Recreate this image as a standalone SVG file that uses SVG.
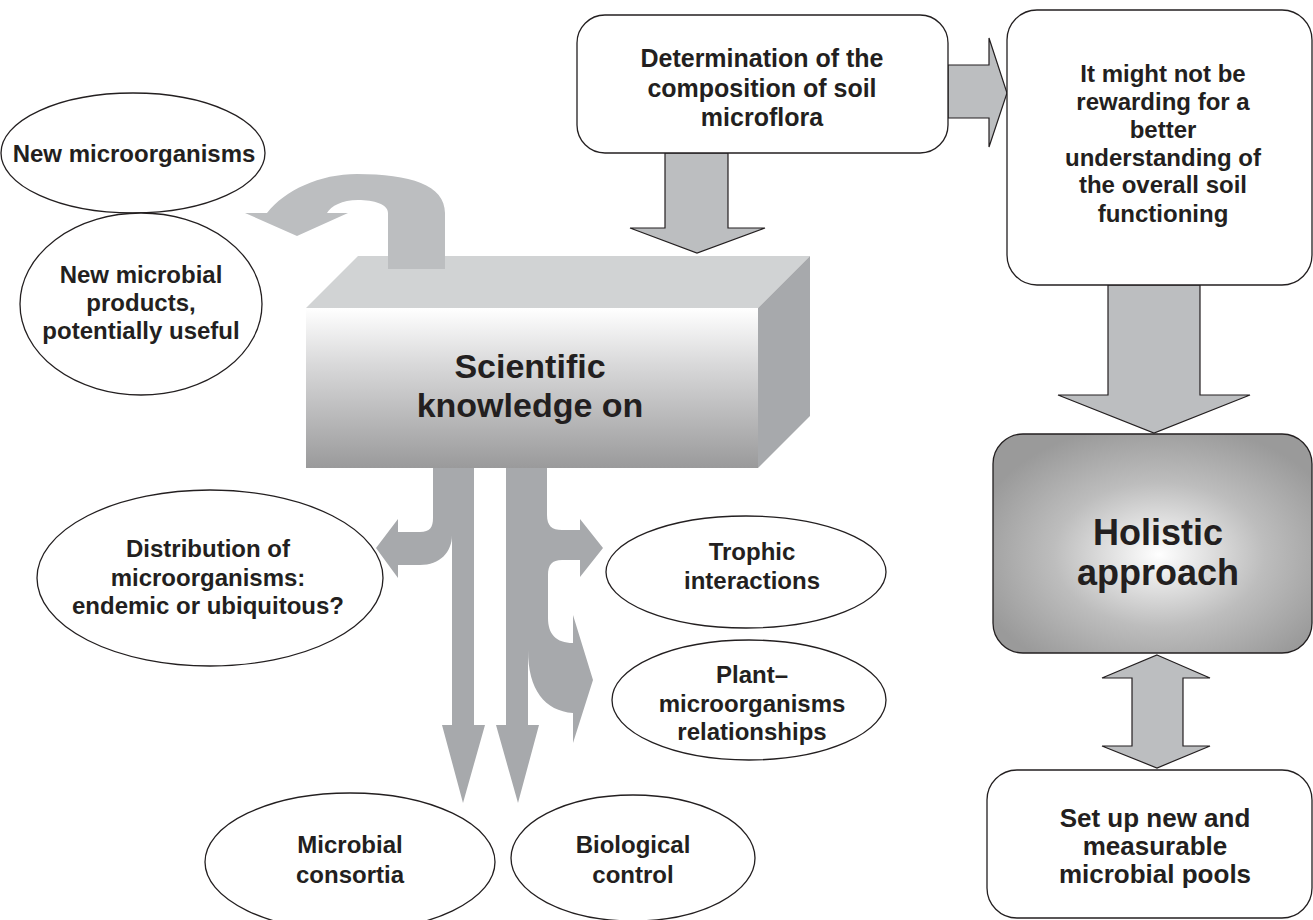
<svg xmlns="http://www.w3.org/2000/svg" width="1313" height="920" viewBox="0 0 1313 920">
<style>
text{font-family:"Liberation Sans",Arial,sans-serif;font-weight:bold;fill:#231f20;text-anchor:middle}
.t{font-size:24px}
.t25{font-size:25px}
.t26{font-size:26px}
.big{font-size:34px}
.hol{font-size:36px}
.ell{fill:#fff;stroke:#231f20;stroke-width:1.3}
.box{fill:#fff;stroke:#231f20;stroke-width:1.3}
.barr{fill:#bcbec0;stroke:#231f20;stroke-width:1.2;stroke-linejoin:miter}
.garr{fill:#a7a9ac}
</style>
<defs>
<linearGradient id="front" x1="0" y1="0" x2="0" y2="1">
<stop offset="0" stop-color="#ffffff"/>
<stop offset="0.35" stop-color="#d9d9da"/>
<stop offset="1" stop-color="#9a9a9b"/>
</linearGradient>
<radialGradient id="holg" cx="0.52" cy="0.55" r="0.6">
<stop offset="0" stop-color="#ffffff"/>
<stop offset="0.55" stop-color="#bdbdbd"/>
<stop offset="1" stop-color="#9a9a9a"/>
</radialGradient>
</defs>

<g id="connectors">
<polygon class="barr" points="665,153 728,153 728,228 765,228 697,253 630,228 665,228 665,153"/>
<polygon class="barr" points="948,65 989,65 989,38 1007,93 989,147 989,118 948,118"/>
<polygon class="barr" points="1108,285 1200,285 1200,395 1250,395 1154,433 1058,395 1108,395"/>
<polygon class="barr" points="1157,655 1210,678 1183,678 1183,746 1210,746 1157,768 1102,746 1132,746 1132,678 1102,678"/>
</g>

<g id="box-scientific">
<polygon points="306,308 358,256 810,256 758,308" fill="#d1d3d4"/>
<polygon points="758,308 810,256 810,416 758,468" fill="#a7a9ac"/>
<rect x="306" y="308" width="452" height="160" fill="url(#front)"/>
<text class="big" x="530" y="378">Scientific</text>
<text class="big" x="530" y="417">knowledge on</text>
</g>

<g id="connectors-grey">
<path d="M 388 269 L 388 213 C 388 204 374 200 358 200 C 342 200 331 206 327 213 L 348 213 L 297 236 L 245 213 L 267 213 C 285 190 320 174 357 174 C 410 174 445 185 445 213 L 445 269 Z" fill="#bcbec0"/>
<path class="garr" d="M 433 468 L 474 468 L 474 725 L 485 725 L 463 803 L 442 725 L 452 725 L 452 535 C 452 552 440 565 420 565 L 398 565 L 398 578 L 376 548 L 398 519 L 398 532 L 420 532 C 430 532 433 527 433 518 Z"/>
<path class="garr" d="M 506 468 L 547 468 L 547 515 C 547 526 552 530 562 530 L 580 530 L 580 519 L 603 548 L 580 577 L 580 560 L 562 560 C 552 560 548 565 548 575 L 548 618 C 548 634 556 643 573 643 L 573 615 L 593 680 L 573 743 L 573 713 C 545 711 528 690 528 650 L 528 725 L 539 725 L 518 803 L 496 725 L 506 725 Z"/>
</g>

<g id="node-determination">
<rect class="box" x="577" y="15" width="371" height="138" rx="28"/>
<text class="t25" x="762" y="67">Determination of the</text>
<text class="t25" x="762" y="97">composition of soil</text>
<text class="t25" x="762" y="126">microflora</text>
</g>

<g id="node-rewarding">
<rect class="box" x="1007" y="10" width="305" height="275" rx="30"/>
<text class="t" x="1163" y="82">It might not be</text>
<text class="t" x="1163" y="110">rewarding for a</text>
<text class="t" x="1163" y="138">better</text>
<text class="t" x="1163" y="166">understanding of</text>
<text class="t" x="1163" y="193">the overall soil</text>
<text class="t" x="1163" y="222">functioning</text>
</g>

<g id="node-holistic">
<rect x="993" y="434" width="319" height="219" rx="30" fill="url(#holg)" stroke="#231f20" stroke-width="1.3"/>
<text class="hol" x="1158" y="545">Holistic</text>
<text class="hol" x="1158" y="585">approach</text>
</g>

<g id="node-pools">
<rect class="box" x="987" y="770" width="325" height="148" rx="30"/>
<text class="t26" x="1155" y="827">Set up new and</text>
<text class="t26" x="1155" y="855">measurable</text>
<text class="t26" x="1155" y="883">microbial pools</text>
</g>

<g id="node-new-microorganisms">
<ellipse class="ell" cx="133" cy="153" rx="132" ry="60"/>
<text class="t" x="134" y="162">New microorganisms</text>
</g>

<g id="node-new-products">
<ellipse class="ell" cx="141" cy="304" rx="121" ry="91"/>
<text class="t" x="141" y="283">New microbial</text>
<text class="t" x="141" y="311">products,</text>
<text class="t" x="141" y="339">potentially useful</text>
</g>

<g id="node-distribution">
<ellipse class="ell" cx="210" cy="578" rx="173" ry="88"/>
<text class="t" x="208" y="557">Distribution of</text>
<text class="t" x="208" y="586">microorganisms:</text>
<text class="t" x="208" y="614">endemic or ubiquitous?</text>
</g>

<g id="node-trophic">
<ellipse class="ell" cx="746" cy="572" rx="140" ry="56"/>
<text class="t" x="752" y="560">Trophic</text>
<text class="t" x="752" y="589">interactions</text>
</g>

<g id="node-plant">
<ellipse class="ell" cx="749" cy="700" rx="137" ry="60"/>
<text class="t" x="752" y="683">Plant–</text>
<text class="t" x="752" y="712">microorganisms</text>
<text class="t" x="752" y="740">relationships</text>
</g>

<g id="node-consortia">
<ellipse class="ell" cx="350" cy="862" rx="145" ry="69"/>
<text class="t" x="350" y="853">Microbial</text>
<text class="t" x="350" y="883">consortia</text>
</g>

<g id="node-biocontrol">
<ellipse class="ell" cx="633" cy="858" rx="122" ry="63"/>
<text class="t" x="633" y="853">Biological</text>
<text class="t" x="633" y="883">control</text>
</g>
</svg>
